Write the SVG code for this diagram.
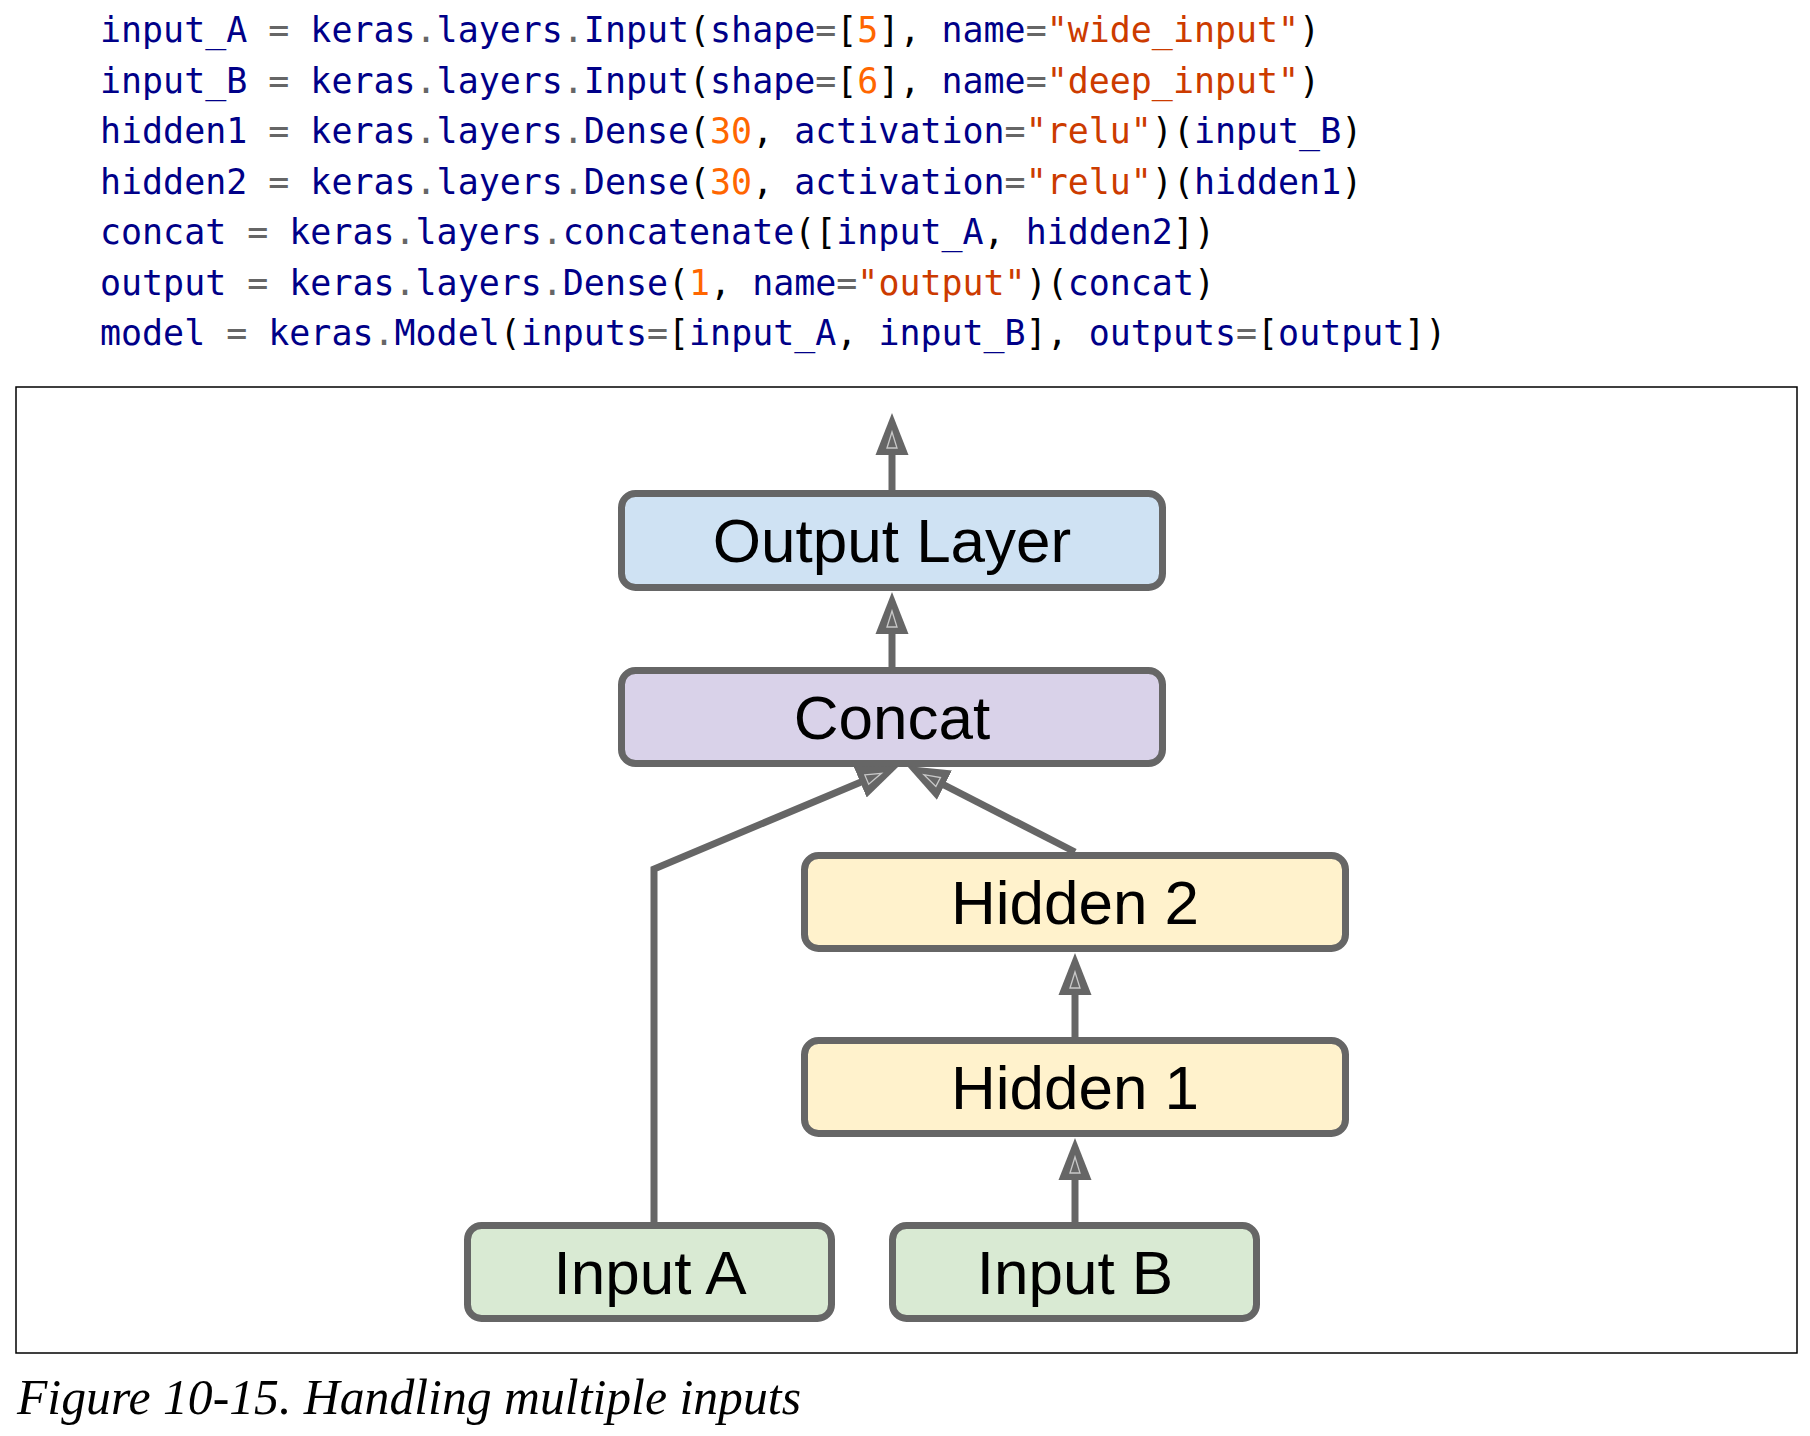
<svg xmlns="http://www.w3.org/2000/svg" width="1810" height="1436" viewBox="0 0 1810 1436">
<style>
.code{font-family:"DejaVu Sans Mono","Liberation Mono",monospace;font-size:34.95px;fill:#000088;white-space:pre}
.o{fill:#666666}
.p{fill:#000000}
.m{fill:#ff6600}
.s{fill:#cc3b00}
.box{stroke:#666666;stroke-width:7}
.lbl{font-family:"Liberation Sans",Arial,sans-serif;font-size:62px;fill:#000000;text-anchor:middle}
.conn{fill:none;stroke:#666666;stroke-width:7}
.cap{font-family:"Liberation Serif","Times New Roman",serif;font-style:italic;font-size:50px;fill:#000000}
</style>
<defs>
<marker id="arr" markerUnits="userSpaceOnUse" markerWidth="44" markerHeight="36" viewBox="0 -18 44 36" refX="28" refY="0" orient="auto">
<path d="M0,-16.5 L42,0 L0,16.5 Z" fill="#666666"/>
<path d="M7,-5 L23,0 L7,5 Z" fill="none" stroke="#c8c8c8" stroke-width="1.3"/>
</marker>
</defs>
<rect width="1810" height="1436" fill="#ffffff"/>
<g id="code">
<text class="code" x="100" y="42"><tspan>input_A </tspan><tspan class="o">=</tspan><tspan> keras</tspan><tspan class="o">.</tspan><tspan>layers</tspan><tspan class="o">.</tspan><tspan>Input</tspan><tspan class="p">(</tspan><tspan>shape</tspan><tspan class="o">=</tspan><tspan class="p">[</tspan><tspan class="m">5</tspan><tspan class="p">], </tspan><tspan>name</tspan><tspan class="o">=</tspan><tspan class="s">"wide_input"</tspan><tspan class="p">)</tspan></text>
<text class="code" x="100" y="92.5"><tspan>input_B </tspan><tspan class="o">=</tspan><tspan> keras</tspan><tspan class="o">.</tspan><tspan>layers</tspan><tspan class="o">.</tspan><tspan>Input</tspan><tspan class="p">(</tspan><tspan>shape</tspan><tspan class="o">=</tspan><tspan class="p">[</tspan><tspan class="m">6</tspan><tspan class="p">], </tspan><tspan>name</tspan><tspan class="o">=</tspan><tspan class="s">"deep_input"</tspan><tspan class="p">)</tspan></text>
<text class="code" x="100" y="143"><tspan>hidden1 </tspan><tspan class="o">=</tspan><tspan> keras</tspan><tspan class="o">.</tspan><tspan>layers</tspan><tspan class="o">.</tspan><tspan>Dense</tspan><tspan class="p">(</tspan><tspan class="m">30</tspan><tspan class="p">, </tspan><tspan>activation</tspan><tspan class="o">=</tspan><tspan class="s">"relu"</tspan><tspan class="p">)(</tspan><tspan>input_B</tspan><tspan class="p">)</tspan></text>
<text class="code" x="100" y="193.5"><tspan>hidden2 </tspan><tspan class="o">=</tspan><tspan> keras</tspan><tspan class="o">.</tspan><tspan>layers</tspan><tspan class="o">.</tspan><tspan>Dense</tspan><tspan class="p">(</tspan><tspan class="m">30</tspan><tspan class="p">, </tspan><tspan>activation</tspan><tspan class="o">=</tspan><tspan class="s">"relu"</tspan><tspan class="p">)(</tspan><tspan>hidden1</tspan><tspan class="p">)</tspan></text>
<text class="code" x="100" y="244"><tspan>concat </tspan><tspan class="o">=</tspan><tspan> keras</tspan><tspan class="o">.</tspan><tspan>layers</tspan><tspan class="o">.</tspan><tspan>concatenate</tspan><tspan class="p">([</tspan><tspan>input_A</tspan><tspan class="p">, </tspan><tspan>hidden2</tspan><tspan class="p">])</tspan></text>
<text class="code" x="100" y="294.5"><tspan>output </tspan><tspan class="o">=</tspan><tspan> keras</tspan><tspan class="o">.</tspan><tspan>layers</tspan><tspan class="o">.</tspan><tspan>Dense</tspan><tspan class="p">(</tspan><tspan class="m">1</tspan><tspan class="p">, </tspan><tspan>name</tspan><tspan class="o">=</tspan><tspan class="s">"output"</tspan><tspan class="p">)(</tspan><tspan>concat</tspan><tspan class="p">)</tspan></text>
<text class="code" x="100" y="345"><tspan>model </tspan><tspan class="o">=</tspan><tspan> keras</tspan><tspan class="o">.</tspan><tspan>Model</tspan><tspan class="p">(</tspan><tspan>inputs</tspan><tspan class="o">=</tspan><tspan class="p">[</tspan><tspan>input_A</tspan><tspan class="p">, </tspan><tspan>input_B</tspan><tspan class="p">], </tspan><tspan>outputs</tspan><tspan class="o">=</tspan><tspan class="p">[</tspan><tspan>output</tspan><tspan class="p">])</tspan></text>
</g>
<rect id="frame" x="16" y="387" width="1781" height="966" fill="none" stroke="#000000" stroke-width="1.5"/>
<g id="node-output">
<rect class="box" x="621.5" y="493.5" width="541" height="94" rx="14" fill="#cfe2f3"/>
<text class="lbl" x="892" y="562">Output Layer</text>
</g>
<g id="node-concat">
<rect class="box" x="621.5" y="670.5" width="541" height="93" rx="14" fill="#d9d2e9"/>
<text class="lbl" x="892" y="739">Concat</text>
</g>
<g id="node-hidden2">
<rect class="box" x="804.5" y="855.5" width="541" height="93" rx="14" fill="#fff2cc"/>
<text class="lbl" x="1075" y="924">Hidden 2</text>
</g>
<g id="node-hidden1">
<rect class="box" x="804.5" y="1040.5" width="541" height="93" rx="14" fill="#fff2cc"/>
<text class="lbl" x="1075" y="1109">Hidden 1</text>
</g>
<g id="node-inputA">
<rect class="box" x="467.5" y="1225.5" width="364" height="93" rx="14" fill="#d9ead3"/>
<text class="lbl" x="650" y="1294">Input A</text>
</g>
<g id="node-inputB">
<rect class="box" x="892.5" y="1225.5" width="364" height="93" rx="14" fill="#d9ead3"/>
<text class="lbl" x="1075" y="1294">Input B</text>
</g>
<g id="connectors">
<path class="conn" d="M892,490 L892,427" marker-end="url(#arr)"/>
<path class="conn" d="M892,667 L892,606" marker-end="url(#arr)"/>
<path class="conn" d="M654,1222 L654,869 L886.1,771.4" marker-end="url(#arr)"/>
<path class="conn" d="M1075,852 L919.5,772.4" marker-end="url(#arr)"/>
<path class="conn" d="M1075,1037 L1075,967" marker-end="url(#arr)"/>
<path class="conn" d="M1075,1222 L1075,1152" marker-end="url(#arr)"/>
</g>
<text class="cap" x="17" y="1414" textLength="784" lengthAdjust="spacingAndGlyphs">Figure 10-15. Handling multiple inputs</text>
</svg>
